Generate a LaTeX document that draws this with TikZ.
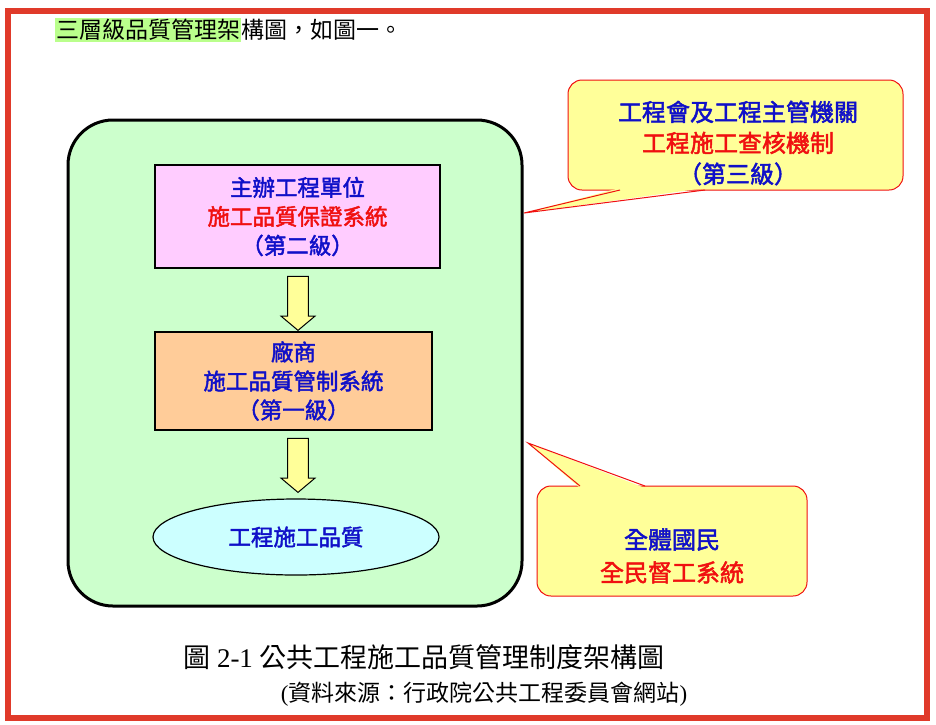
\documentclass[tikz,border=0pt]{standalone}
\usepackage{fontspec}
\setmainfont{Liberation Serif}
\newfontfamily\cjk{Noto Sans CJK TC}
\newfontfamily\cjkb{Noto Sans CJK TC}[FakeBold=2]
\usetikzlibrary{shapes.geometric,shapes.arrows}
\definecolor{bl}{HTML}{1010C8}
\definecolor{rd}{HTML}{F01010}
\definecolor{frame}{HTML}{E03A2A}
\definecolor{ylw}{HTML}{FFFF99}
\tikzset{
  box/.style={draw=black,line width=1.2pt,minimum width=#1,align=center,font=\cjkb\fontsize{22.5pt}{29pt}\selectfont},
  callout/.style={draw=rd,line width=1pt,fill=ylw,rounded corners=14pt},
  barrow/.style={single arrow,draw=black,line width=1pt,fill=ylw,shape border rotate=270,minimum height=54pt,minimum width=34pt,single arrow head extend=6pt,single arrow tip angle=100,inner sep=9pt}
}
\begin{document}
\begin{tikzpicture}[x=1pt,y=-1pt]
\useasboundingbox (0,0) rectangle (936,724);
\fill[white] (0,0) rectangle (936,724);
\draw[frame,line width=6pt] (8,11) rectangle (927,718);
\node[fill=green!60!yellow!45,inner sep=1pt,anchor=west,font=\cjk\fontsize{23pt}{25pt}\selectfont] (hl) at (55,30) {三層級品質管理架};
\node[anchor=west,inner sep=0pt,font=\cjk\fontsize{23pt}{25pt}\selectfont] (rest) at (hl.east) {構圖，如圖一。};
\draw[line width=3pt,fill={rgb,255:red,204;green,255;blue,204},rounded corners=45pt] (68,120) rectangle (522,606);
\node[box=285pt,fill={rgb,255:red,255;green,204;blue,255},minimum height=103pt] (b2) at (297.5,216.5) {\textcolor{bl}{主辦工程單位}\\\textcolor{rd}{施工品質保證系統}\\\textcolor{bl}{（第二級）}};
\node[box=277pt,fill={rgb,255:red,255;green,204;blue,153},minimum height=98pt] (b1) at (293.5,381) {\textcolor{bl}{廠商}\\\textcolor{bl}{施工品質管制系統}\\\textcolor{bl}{（第一級）}};
\node[ellipse,draw=black,line width=1.2pt,fill={rgb,255:red,204;green,255;blue,255},minimum width=286pt,minimum height=76pt,font=\cjkb\fontsize{22.5pt}{26pt}\selectfont,text=bl] (q) at (296,537) {工程施工品質};
\node[barrow] (a1) at (298,299) {};
\node[barrow] (a2) at (298,461) {};
\path[callout] (568,80) rectangle (903,190);
\fill[ylw] (620,188) -- (524,213) -- (705,188) -- cycle;
\draw[rd,line width=1pt] (620,190) -- (524,213) -- (705,190);
\node[align=center,font=\cjkb\fontsize{24pt}{31pt}\selectfont] (c3) at (738,143) {\textcolor{bl}{工程會及工程主管機關}\\\textcolor{rd}{工程施工查核機制}\\\textcolor{bl}{（第三級）}};
\path[callout] (537,486) rectangle (807,596);
\fill[ylw] (580,488) -- (528,443) -- (645,488) -- cycle;
\draw[rd,line width=1pt] (580,486) -- (528,443) -- (645,486);
\node[align=center,font=\cjkb\fontsize{24pt}{33pt}\selectfont] (c0) at (672,556) {\textcolor{bl}{全體國民}\\\textcolor{rd}{全民督工系統}};
\node[font=\fontsize{27pt}{29pt}\selectfont] (cap) at (424,657) {{\cjk 圖} 2-1 {\cjk 公共工程施工品質管理制度架構圖}};
\node[font=\fontsize{23pt}{25pt}\selectfont] (src) at (484,694) {({\cjk 資料來源：行政院公共工程委員會網站})};
\end{tikzpicture}
\end{document}
